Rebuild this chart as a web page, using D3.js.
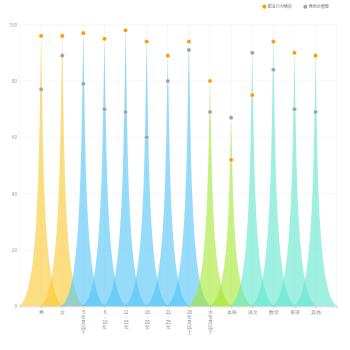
<!DOCTYPE html>
<html>
<head>
<meta charset="utf-8">
<script src="https://cdn.jsdelivr.net/npm/d3@7"></script>
<style>
  html, body { margin: 0; padding: 0; background: #fff; }
  svg { display: block; font-family: "Noto Sans CJK SC", "Noto Sans", sans-serif; }
</style>
</head>
<body>
<svg id="chart" width="350" height="350"></svg>
<script>
// Categories (axis labels use "\n" to stack characters vertically)
const categories = ['男', '女', '5年及以下', '6-10年', '11-15年', '16-20年', '21-25年',
  '26年及以上', '大专及以下', '本科', '语文', '数学', '英语', '其他'];
const tickLabels = ['男', '女', '5\n年\n及\n以\n下', '6\n-\n10\n年', '11\n-\n15\n年', '16\n-\n20\n年',
  '21\n-\n25\n年', '26\n年\n及\n以\n上', '大\n专\n及\n以\n下', '本科', '语文', '数学', '英语', '其他'];
const groups = ['性别', '性别', '教龄', '教龄', '教龄', '教龄', '教龄', '教龄', '学历', '学历',
  '学科', '学科', '学科', '学科'];
const seriesNames = ['职业行为倾向', '角色价值观'];
const behaviour = [96, 96, 97, 95, 98, 94, 89, 94, 80, 52, 75, 94, 90, 89];
const values = [77, 89, 79, 70, 69, 60, 80, 91, 69, 67, 90, 84, 70, 69];
const yTicks = [0, 20, 40, 60, 80, 100];

const groupColor = { '性别': '#fac82f', '教龄': '#50c5f7', '学历': '#a3e62f', '学科': '#61e6cd' };
const seriesColor = ['#ff9800', '#a0a0a8'];

const svg = d3.select('#chart');
const plotLeft = 20, plotRight = 336.7, plotTop = 24.7, plotBottom = 306.3;

const x = d3.scalePoint().domain(categories).range([plotLeft, plotRight]).padding(1);
const y = d3.scaleLinear().domain([0, 100]).range([plotBottom, plotTop]);
const step = x.step();

// grid
const grid = svg.append('g');
grid.selectAll('line.h').data(yTicks.filter(d => d > 0)).join('line')
  .attr('x1', plotLeft).attr('x2', plotRight)
  .attr('y1', d => y(d)).attr('y2', d => y(d))
  .attr('stroke', '#f2f2f2').attr('stroke-width', 0.6);
const vx = [plotLeft, ...categories.map(c => x(c)), plotRight];
grid.selectAll('line.v').data(vx).join('line')
  .attr('x1', d => d).attr('x2', d => d)
  .attr('y1', plotTop).attr('y2', plotBottom)
  .attr('stroke', '#f2f2f2').attr('stroke-width', 0.6);

// spikes reach the higher of the two values
function spike(cx, v) {
  const w = step * 2.3, h = y(0) - y(v);
  const x0 = cx - w / 2, yb = y(0), yt = y(v);
  const p = d3.path();
  p.moveTo(x0, yb);
  p.lineTo(x0 + w, yb);
  p.bezierCurveTo(x0 + 0.55 * w, yb, x0 + 0.55 * w, yb - 0.5 * h, x0 + 0.5 * w, yt);
  p.bezierCurveTo(x0 + 0.45 * w, yb - 0.5 * h, x0 + 0.45 * w, yb, x0, yb);
  p.closePath();
  return p.toString();
}
svg.append('g').selectAll('path').data(categories).join('path')
  .attr('d', (c, i) => spike(x(c), Math.max(behaviour[i], values[i])))
  .attr('fill', (c, i) => groupColor[groups[i]])
  .attr('fill-opacity', 0.6);

// axes
const xAxis = svg.append('g').attr('transform', `translate(0,${plotBottom})`)
  .call(d3.axisBottom(x).tickSize(2).tickSizeOuter(2).tickFormat(''));
xAxis.select('.domain').attr('stroke', '#c8c8c8').attr('stroke-width', 0.7);
xAxis.selectAll('.tick line').attr('stroke', '#c8c8c8').attr('stroke-width', 0.7);
xAxis.selectAll('.tick').each(function (c, i) {
  const lines = tickLabels[i].split('\n');
  const t = d3.select(this).append('text')
    .attr('fill', '#888').attr('font-size', 4.5).attr('text-anchor', 'middle');
  lines.forEach((s, k) => t.append('tspan').attr('x', 0).attr('y', 7.6 + k * 5).text(s));
});

const yAxis = svg.append('g').attr('transform', `translate(${plotLeft},0)`)
  .call(d3.axisLeft(y).tickValues(yTicks).tickSize(0).tickPadding(3));
yAxis.select('.domain').remove();
yAxis.selectAll('text').attr('fill', '#999').attr('font-size', 4.5)
  .attr('font-family', '"Noto Sans", sans-serif');

// dots
const dots = svg.append('g');
[behaviour, values].forEach((arr, s) => {
  dots.append('g').selectAll('circle').data(categories).join('circle')
    .attr('cx', c => x(c)).attr('cy', (c, i) => y(arr[i]))
    .attr('r', 2.1).attr('fill', seriesColor[s])
    .attr('stroke', '#fff').attr('stroke-width', 0.3);
});

// legend
const legend = svg.append('g');
const lx = [264.3, 305.3];
seriesNames.forEach((n, s) => {
  legend.append('circle').attr('cx', lx[s]).attr('cy', 6.7).attr('r', 2).attr('fill', seriesColor[s]);
  legend.append('text').attr('x', lx[s] + 3.5).attr('y', 8.2)
    .attr('font-size', 4).attr('fill', '#666').text(n);
});
</script>
</body>
</html>
